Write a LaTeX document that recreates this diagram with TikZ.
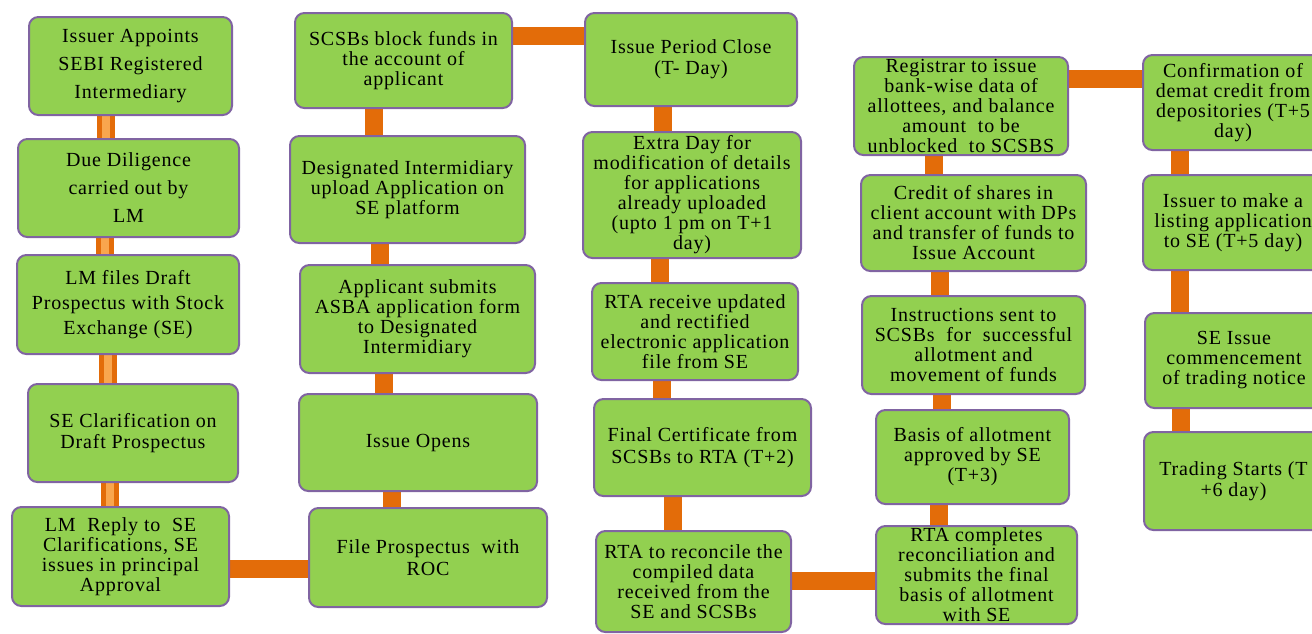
\documentclass[tikz,border=0pt]{standalone}
\usepackage{fontspec}
\setmainfont{Liberation Serif}[LetterSpace=4]

\usetikzlibrary{backgrounds}

\definecolor{boxgreen}{HTML}{92D050}
\definecolor{boxedge}{HTML}{8064A2}
\definecolor{pipe}{HTML}{E36C09}
\definecolor{pipelight}{HTML}{F9A64E}

\tikzset{
  stepbox/.style={draw=boxedge, fill=boxgreen, line width=1.5pt, rounded corners=7pt,
    inner sep=0pt, align=center, font=\fontsize{15}{15}\selectfont},
  boxsize/.style 2 args={minimum width=#1*0.75pt, minimum height=#2*0.75pt},
  link/.style={draw=pipe, line width=13pt},
  tube/.style={draw=pipe, line width=3.5pt, double=pipelight, double distance=6pt},
}

\begin{document}
\begin{tikzpicture}[x=0.75pt, y=-0.75pt]
\path[use as bounding box] (0,0) rectangle (1312,633);
\clip (0,0) rectangle (1312,633);

% colonne 1
\node[stepbox, boxsize={203}{98}, font=\fontsize{15}{21}\selectfont] (b1) at (130.5,66) {Issuer Appoints\\SEBI Registered\\Intermediary};
\node[stepbox, boxsize={221}{98}, font=\fontsize{15}{21}\selectfont] (b2) at (128.5,188) {Due Diligence\\carried out by\\LM};
\node[stepbox, boxsize={222}{99}, font=\fontsize{15}{19}\selectfont] (b3) at (128,304.5) {LM files Draft\\Prospectus with Stock\\Exchange (SE)};
\node[stepbox, boxsize={210}{98}, font=\fontsize{15}{16}\selectfont] (b4) at (133,433) {SE Clarification on\\Draft Prospectus};
\node[stepbox, boxsize={217}{99}] (b5) at (120.5,556.5) {LM~~Reply to~~SE\\Clarifications, SE\\issues in principal\\Approval};

% colonne 2
\node[stepbox, boxsize={217}{95}] (c1) at (403.5,60.5) {SCSBs block funds in\\the account of\\applicant};
\node[stepbox, boxsize={235}{107}] (c2) at (407.5,189.5) {Designated Intermidiary\\upload Application on\\SE platform};
\node[stepbox, boxsize={235}{108}] (c3) at (417.5,319) {Applicant submits\\ASBA application form\\to Designated\\Intermidiary};
\node[stepbox, boxsize={238}{97}] (c4) at (418,442.5) {Issue Opens};
\node[stepbox, boxsize={238}{99}, font=\fontsize{15}{16}\selectfont] (c5) at (428,557.5) {File Prospectus~ with\\ROC};

% colonne 3
\node[stepbox, boxsize={212}{93}, font=\fontsize{15}{16}\selectfont] (d1) at (691,59.5) {Issue Period Close\\(T- Day)};
\node[stepbox, boxsize={218}{126}] (d2) at (692,195) {Extra Day for\\modification of details\\for applications\\already uploaded\\(upto 1 pm on T+1\\day)};
\node[stepbox, boxsize={206}{97}] (d3) at (695,331.5) {RTA receive updated\\and rectified\\electronic application\\file from SE};
\node[stepbox, boxsize={217}{97}, font=\fontsize{15}{16}\selectfont] (d4) at (702.5,447.5) {Final Certificate from\\SCSBs to RTA (T+2)};
\node[stepbox, boxsize={195}{101}] (d5) at (693.5,581.5) {RTA to reconcile the\\compiled data\\received from the\\SE and SCSBs};

% colonne 4
\node[stepbox, boxsize={214}{98}] (e1) at (961,106) {Registrar to issue\\bank-wise data of\\allottees, and balance\\amount~ to be\\unblocked~ to SCSBS};
\node[stepbox, boxsize={225}{96}] (e2) at (973.5,223) {Credit of shares in\\client account with DPs\\and transfer of funds to\\Issue Account};
\node[stepbox, boxsize={223}{98}] (e3) at (973.5,345) {Instructions sent to\\SCSBs~ for~ successful\\allotment and\\movement of funds};
\node[stepbox, boxsize={193}{94}] (e4) at (972.5,457) {Basis of allotment\\approved by SE\\(T+3)};
\node[stepbox, boxsize={201}{98}] (e5) at (976.5,575) {RTA completes\\reconciliation and\\submits the final\\basis of allotment\\with SE};

% colonne 5
\node[stepbox, boxsize={180}{95}] (f1) at (1233,102.5) {Confirmation of\\demat credit from\\depositories (T+5\\day)};
\node[stepbox, boxsize={180}{95}] (f2) at (1233,222.5) {Issuer to make a\\listing application\\to SE (T+5 day)};
\node[stepbox, boxsize={178}{95}] (f3) at (1234,360.5) {SE Issue\\commencement\\of trading notice};
\node[stepbox, boxsize={179}{98}, font=\fontsize{15}{16}\selectfont] (f4) at (1233.5,481) {Trading Starts (T\\+6 day)};

\begin{pgfonlayer}{background}
\foreach \a/\b/\x in {b1/b2/106, b2/b3/105, b3/b4/108, b4/b5/110}
  \draw[tube] (\a.south -| \x,0) -- (\b.north -| \x,0);
\foreach \a/\b/\x in {c1/c2/374, c2/c3/380, c3/c4/384, c4/c5/392,
                      d1/d2/663, d2/d3/660, d3/d4/662, d4/d5/673,
                      e1/e2/934, e2/e3/940, e3/e4/942, e4/e5/939,
                      f1/f2/1180, f2/f3/1180, f3/f4/1181}
  \draw[link] (\a.south -| \x,0) -- (\b.north -| \x,0);
\foreach \a/\b/\y in {b5/c5/569, c1/d1/36, d5/e5/581, e1/f1/79}
  \draw[link] (\a.east |- 0,\y) -- (\b.west |- 0,\y);
\end{pgfonlayer}
\end{tikzpicture}
\end{document}
